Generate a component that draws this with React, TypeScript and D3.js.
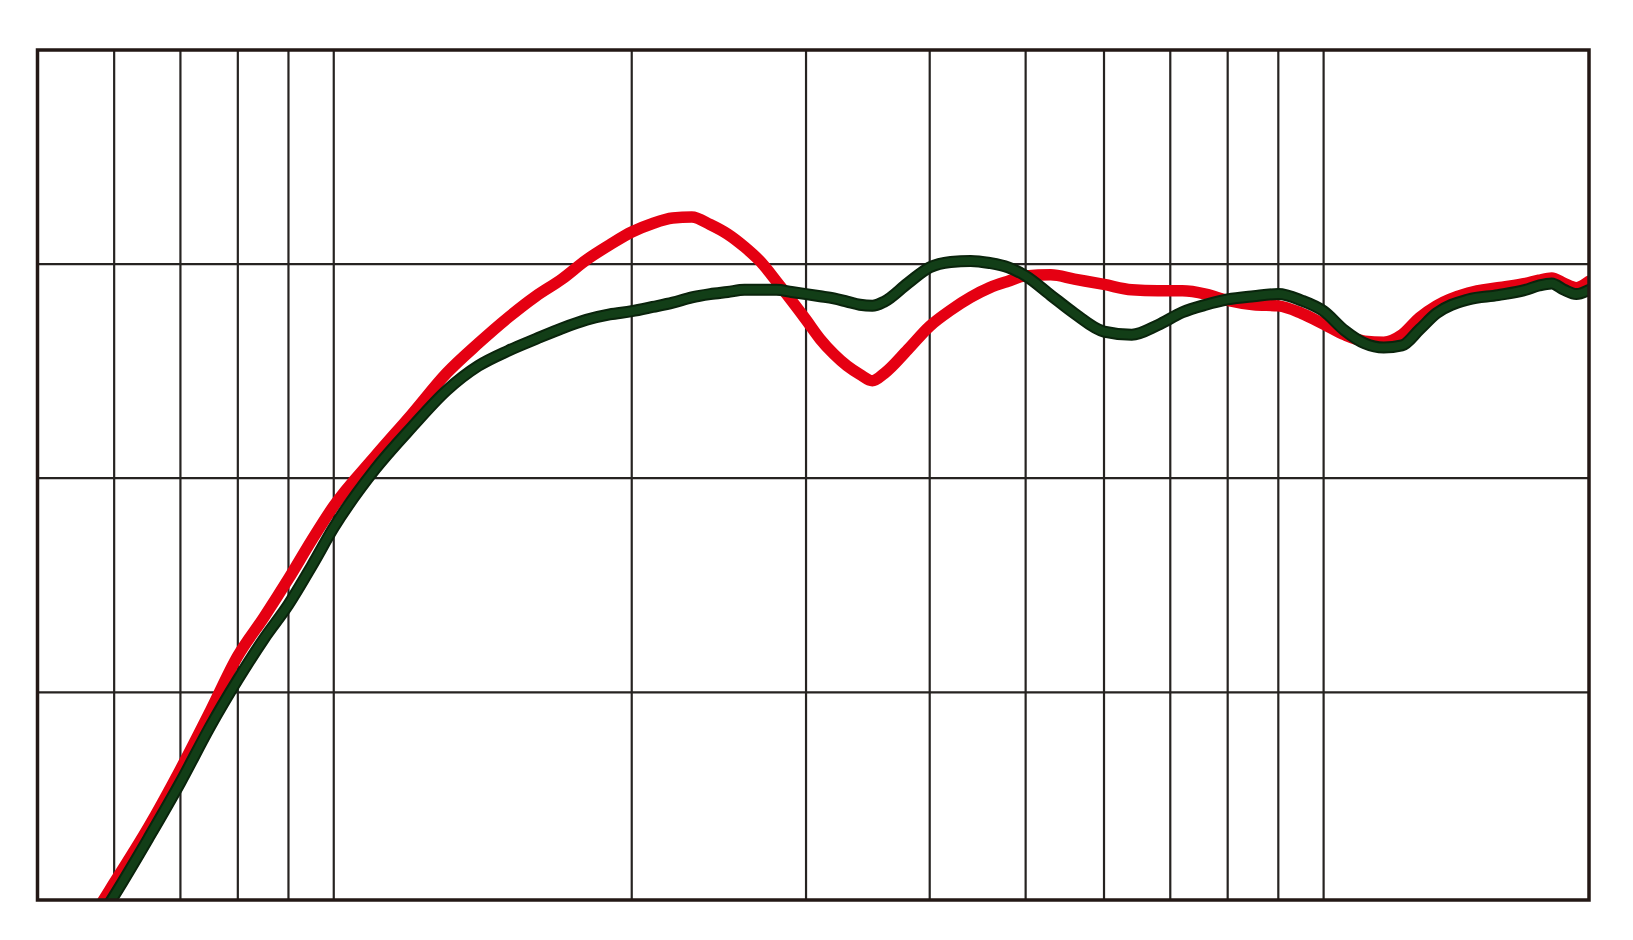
import { useMemo } from "react";
import * as d3 from "d3";

const WIDTH = 1633;
const HEIGHT = 940;
const PLOT = { left: 37.5, right: 1589, top: 50, bottom: 900 };

// frequency (Hz) on a log axis, level in dB
const FREQ_DOMAIN = [502, 18540];
const DB_DOMAIN = [-29.7, 10];
const FREQ_GRID = [600, 700, 800, 900, 1000, 2000, 3000, 4000, 5000, 6000, 7000, 8000, 9000, 10000];
const DB_GRID = [0, -10, -20];

const FREQS = [
  570, 580, 600, 650, 700, 750, 800, 850, 900, 950, 1000, 1100, 1200, 1300, 1400, 1500, 1600, 1700,
  1800, 1900, 2000, 2100, 2200, 2300, 2400, 2500, 2600, 2700, 2800, 2900, 3000, 3100, 3200, 3300,
  3400, 3500, 3600, 3800, 4000, 4200, 4400, 4600, 4800, 5000, 5300, 5600, 6000, 6400, 6800, 7200,
  7600, 8000, 8500, 9000, 9500, 10000, 10500, 11000, 11500, 12000, 12500, 13000, 14000, 15000,
  16000, 16500, 17000, 17500, 18000, 18550,
];

const RED_DB = [
  -30.6, -30.0, -28.9, -26.3, -23.6, -20.9, -18.3, -16.5, -14.7, -12.9, -11.3, -9.0, -7.0, -5.1, -3.7,
  -2.5, -1.5, -0.7, 0.2, 0.9, 1.5, 1.9, 2.15, 2.2, 1.85, 1.4, 0.8, 0.1, -0.8, -1.7, -2.6, -3.5, -4.2,
  -4.75, -5.15, -5.45, -5.1, -4.0, -2.9, -2.15, -1.55, -1.1, -0.8, -0.55, -0.5, -0.7, -0.95, -1.2, -1.25,
  -1.25, -1.4, -1.7, -1.9, -1.95, -2.3, -2.8, -3.3, -3.6, -3.65, -3.3, -2.5, -1.95, -1.35, -1.1, -0.9,
  -0.75, -0.65, -0.9, -1.1, -0.8,
];

const GREEN_DB = [
  -31.2, -30.6, -29.5, -26.8, -24.2, -21.6, -19.4, -17.5, -15.9, -14.1, -12.3, -9.6, -7.6, -5.9, -4.75,
  -4.05, -3.5, -3.0, -2.6, -2.35, -2.2, -2.0, -1.8, -1.55, -1.4, -1.3, -1.2, -1.2, -1.2, -1.3, -1.4,
  -1.5, -1.6, -1.75, -1.9, -1.95, -1.75, -0.9, -0.15, 0.1, 0.15, 0.05, -0.15, -0.55, -1.45, -2.3, -3.15,
  -3.3, -2.85, -2.25, -1.9, -1.65, -1.5, -1.4, -1.7, -2.2, -3.1, -3.7, -3.9, -3.8, -3.05, -2.3, -1.65,
  -1.45, -1.2, -1.0, -0.9, -1.2, -1.4, -1.2,
];

export default function App() {
  const x = useMemo(
    () => d3.scaleLog().domain(FREQ_DOMAIN).range([PLOT.left, PLOT.right]),
    [],
  );
  const y = useMemo(
    () => d3.scaleLinear().domain(DB_DOMAIN).range([PLOT.bottom, PLOT.top]),
    [],
  );

  const line = useMemo(
    () =>
      d3
        .line<[number, number]>()
        .x((d) => x(d[0]))
        .y((d) => y(d[1]))
        .curve(d3.curveMonotoneX),
    [x, y],
  );

  const redPath = line(FREQS.map((f, i) => [f, RED_DB[i]])) || "";
  const greenPath = line(FREQS.map((f, i) => [f, GREEN_DB[i]])) || "";

  return (
    <svg
      width={WIDTH}
      height={HEIGHT}
      viewBox={`0 0 ${WIDTH} ${HEIGHT}`}
      style={{ position: "absolute", left: 0, top: 0, background: "#fff" }}
    >
      <defs>
        <clipPath id="plot-clip">
          <rect
            x={PLOT.left}
            y={PLOT.top}
            width={PLOT.right - PLOT.left}
            height={PLOT.bottom - PLOT.top}
          />
        </clipPath>
      </defs>

      {FREQ_GRID.map((f) => (
        <line
          key={`fx-${f}`}
          x1={x(f)}
          x2={x(f)}
          y1={PLOT.top}
          y2={PLOT.bottom}
          stroke="#262321"
          strokeWidth={2.2}
        />
      ))}
      {DB_GRID.map((v) => (
        <line
          key={`dy-${v}`}
          x1={PLOT.left}
          x2={PLOT.right}
          y1={y(v)}
          y2={y(v)}
          stroke="#262321"
          strokeWidth={2.2}
        />
      ))}

      <g clipPath="url(#plot-clip)" fill="none" strokeLinejoin="round" strokeLinecap="round">
        <path d={redPath} stroke="#e50012" strokeWidth={11.5} />
        <path d={greenPath} stroke="#0a240c" strokeWidth={12} />
        <path d={greenPath} stroke="#123e17" strokeWidth={8} />
      </g>

      <rect
        x={PLOT.left}
        y={PLOT.top}
        width={PLOT.right - PLOT.left}
        height={PLOT.bottom - PLOT.top}
        fill="none"
        stroke="#231815"
        strokeWidth={3.5}
      />
    </svg>
  );
}
